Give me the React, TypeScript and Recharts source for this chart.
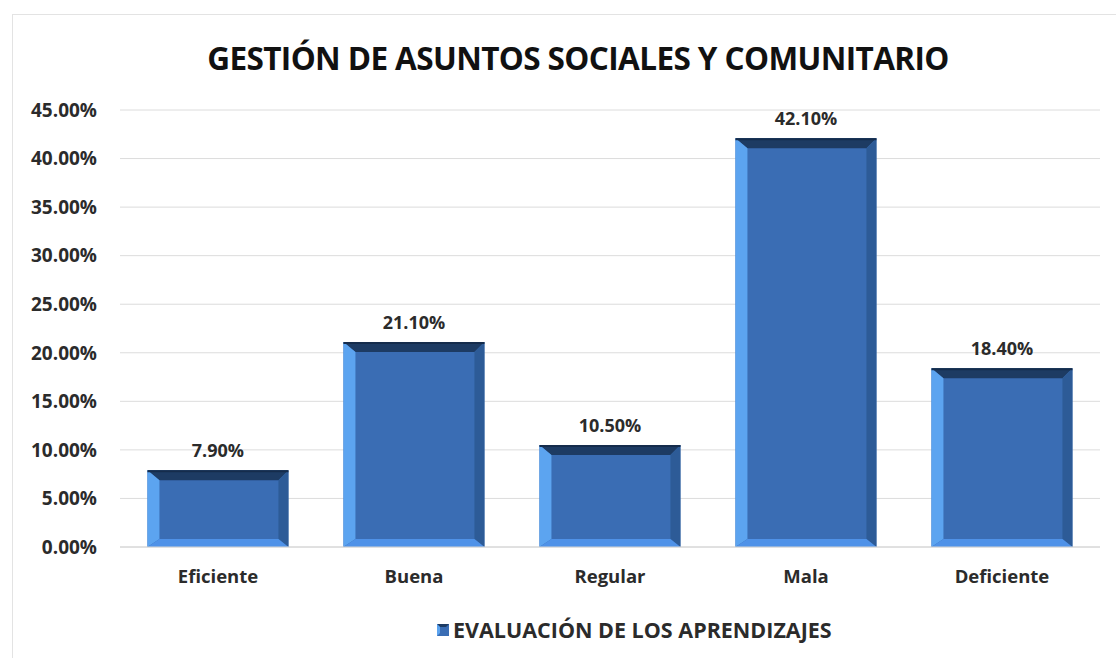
import React from 'react'
import { BarChart, Bar, XAxis, YAxis, CartesianGrid, LabelList } from 'recharts'

const categories = ['Eficiente', 'Buena', 'Regular', 'Mala', 'Deficiente']
const values = [7.9, 21.1, 10.5, 42.1, 18.4]
const yTicks = [0, 5, 10, 15, 20, 25, 30, 35, 40, 45]
const seriesName = 'EVALUACIÓN DE LOS APRENDIZAJES'
const title = 'GESTIÓN DE ASUNTOS SOCIALES Y COMUNITARIO'

const data = categories.map((name, i) => ({ name, value: values[i] }))

const FONT = '"Open Sans", "Liberation Sans", sans-serif'

// bevelled bar like the Excel 3D style
function BevelBar(props: any) {
  const { x, y, width: w, height: h } = props
  if (!w || !h) return null
  const bt = 10
  const bl = 12
  const br = 10
  const bb = 8
  return (
    <g>
      <rect x={x} y={y} width={w} height={h} fill="#3a6db4" />
      <polygon
        points={`${x},${y} ${x + w},${y} ${x + w - br},${y + bt} ${x + bl},${y + bt}`}
        fill="#1d3b63"
      />
      <polygon
        points={`${x},${y} ${x + bl},${y + bt} ${x + bl},${y + h - bb} ${x},${y + h}`}
        fill="#5ca4f0"
      />
      <polygon
        points={`${x + w},${y} ${x + w},${y + h} ${x + w - br},${y + h - bb} ${x + w - br},${y + bt}`}
        fill="#2d5b97"
      />
      <polygon
        points={`${x},${y + h} ${x + w},${y + h} ${x + w - br},${y + h - bb} ${x + bl},${y + h - bb}`}
        fill="#4f92e8"
      />
      <line x1={x} y1={y + 1} x2={x + w} y2={y + 1} stroke="#152c4c" strokeWidth={2} />
    </g>
  )
}

export default function App() {
  return (
    <div
      style={{
        position: 'absolute',
        left: 0,
        top: 0,
        width: 1116,
        height: 658,
        overflow: 'hidden',
        background: '#fff',
      }}
    >
      <div
        style={{
          position: 'absolute',
          left: 12,
          top: 14,
          width: 1110,
          height: 660,
          border: '1px solid #e3e3e3',
        }}
      />
      <div
        style={{
          position: 'absolute',
          left: 0,
          width: 1156,
          top: 36,
          textAlign: 'center',
          fontFamily: FONT,
          fontWeight: 700,
          fontSize: 31.5,
          letterSpacing: -0.6,
          color: '#111',
          lineHeight: '44px',
        }}
      >
        {title}
      </div>
      <div style={{ position: 'absolute', left: 0, top: 0 }}>
        <BarChart
          width={1116}
          height={658}
          data={data}
          margin={{ top: 110, right: 16, left: 12, bottom: 71 }}
          barCategoryGap="14%"
        >
          <CartesianGrid vertical={false} stroke="#dcdcdc" />
          <XAxis
            dataKey="name"
            axisLine={{ stroke: '#d4d4d4' }}
            tickLine={false}
            tickMargin={17}
            height={40}
            tick={{ fontSize: 18.5, fontWeight: 700, fill: '#2b2b2b', fontFamily: FONT }}
          />
          <YAxis
            width={108}
            domain={[0, 45]}
            ticks={yTicks}
            axisLine={false}
            tickLine={false}
            tickMargin={17}
            tickFormatter={(v: number) => `${v.toFixed(2)}%`}
            tick={{ fontSize: 19, fontWeight: 700, fill: '#2b2b2b', fontFamily: FONT }}
          />
          <Bar dataKey="value" name={seriesName} shape={<BevelBar />} isAnimationActive={false}>
            <LabelList
              dataKey="value"
              position="top"
              offset={13}
              formatter={(v: any) => `${Number(v).toFixed(2)}%`}
              style={{ fontSize: 18, fontWeight: 700, fill: '#2b2b2b', fontFamily: FONT }}
            />
          </Bar>
        </BarChart>
      </div>
      <div
        style={{
          position: 'absolute',
          left: 437,
          top: 616,
          display: 'flex',
          alignItems: 'center',
          fontFamily: FONT,
        }}
      >
        <svg width={12} height={12} style={{ marginRight: 4 }}>
          <rect x={0} y={0} width={12} height={12} fill="#3a6db4" />
          <polygon points="0,0 12,0 9,3 3,3" fill="#1d3b63" />
          <polygon points="0,0 3,3 3,9 0,12" fill="#5ca4f0" />
        </svg>
        <span style={{ fontSize: 21.5, fontWeight: 700, color: '#2b2b2b', letterSpacing: 0, lineHeight: '28px' }}>
          {seriesName}
        </span>
      </div>
    </div>
  )
}
